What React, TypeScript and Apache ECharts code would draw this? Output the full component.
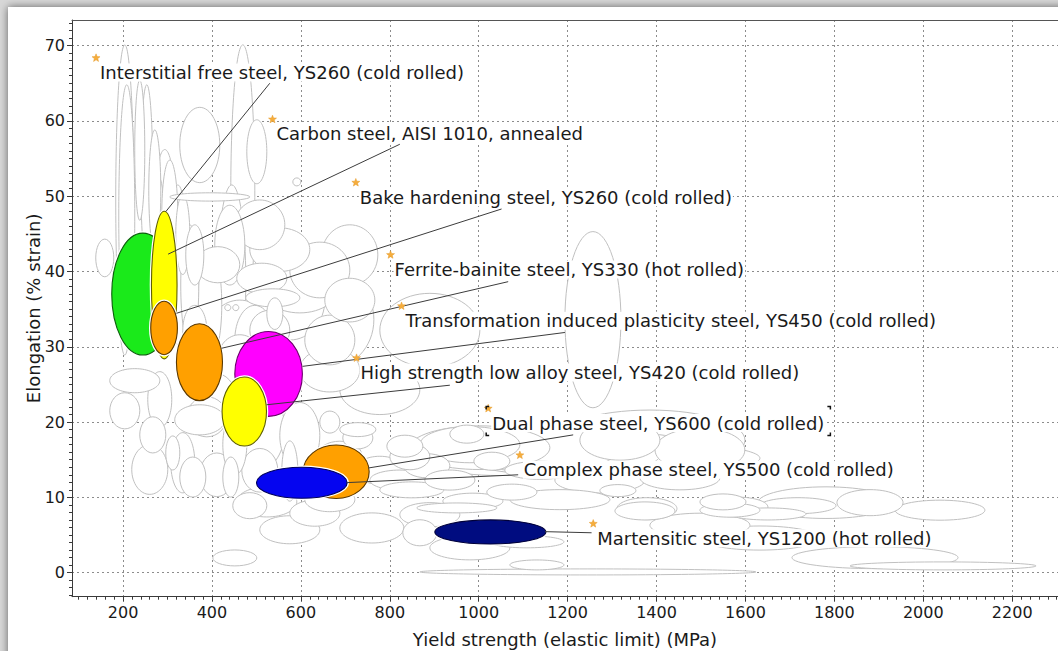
import React, { useEffect, useRef } from "react";
import * as echarts from "echarts";

const FONT = "'DejaVu Sans', Verdana, sans-serif";

// Axis extents (MPa / % strain)
const xRange = [85.2, 2303];
const yRange = [-3.19, 73.4];
const xMajorTicks = [200, 400, 600, 800, 1000, 1200, 1400, 1600, 1800, 2000, 2200];
const yMajorTicks = [0, 10, 20, 30, 40, 50, 60, 70];
const xMinorStep = 20;
const yMinorStep = 1;

// Background (unlabelled) material bubbles: [yield strength, elongation, half-width MPa, half-height %]
const backgroundEllipses: number[][] = [
  [208.4, 47.5, 18, 17.3], [253.4, 52.8, 13.5, 12], [372.6, 56.8, 45, 5], [500.9, 55.9, 22.5, 4.25],
  [395.1, 49.9, 90, 0.55], [590.9, 51.9, 9, 0.53], [203.9, 49.5, 20.3, 20.6], [469.4, 50.8, 27, 19.3],
  [293.9, 42.9, 29.3, 13.3], [323.1, 40.9, 22.5, 10.6], [350.1, 38.2, 20.3, 8], [395.1, 35.6, 27, 7.3],
  [444.6, 38.9, 31.5, 12.6], [278.1, 43.5, 18, 9.3], [158.9, 41.8, 20.3, 2.5], [413.1, 40.9, 49.5, 2.4],
  [512.1, 39.1, 56.3, 2], [536.9, 36.5, 60.8, 1.2], [658.4, 33.6, 105.8, 6.6], [575.1, 36.2, 78.8, 5.3],
  [890.1, 32.2, 112.5, 4.9], [226.4, 25.5, 56.3, 1.6], [203.9, 21.5, 33.8, 2.4], [266.9, 18.3, 29.3, 2.4],
  [311.9, 15.9, 15.8, 2.26], [356.9, 12.7, 29.3, 2.66], [410.9, 13.0, 38.3, 2.9], [442.4, 12.7, 18, 2.66],
  [485.1, 8.9, 38.3, 1.73], [388.4, 20.7, 45, 2.66], [451.4, 1.96, 49.5, 1.06], [597.6, 18.2, 45, 4.4],
  [665.1, 20.0, 22.5, 1.46], [728.1, 19.0, 40.5, 0.93], [728.1, 17.9, 33.8, 1.46], [833.9, 16.8, 40.5, 1.46],
  [845.1, 15.4, 45, 1.73], [883.4, 14.2, 51.8, 1.6], [973.4, 18.4, 38.3, 1.2], [1029.6, 14.8, 40.5, 1.2],
  [759.6, 5.94, 72, 2], [523.4, 9.4, 67.5, 2], [631.4, 7.9, 56.3, 1.73], [849.6, 11.0, 72, 1.06],
  [950.9, 8.6, 90, 0.66], [986.9, 9.5, 67.5, 1.06], [1074.6, 10.7, 56.3, 1.06], [1378.4, 8.5, 67.5, 1.46],
  [1549.4, 9.4, 51.8, 1.06], [1565.1, 8.3, 67.5, 0.93], [1650.6, 7.8, 85.5, 0.8], [1718.1, 8.9, 85.5, 1.06],
  [1313.1, 10.9, 40.5, 0.8], [1880.1, 9.3, 74.3, 1.73], [1245.6, 0.1, 378, 0.4], [2044.4, 0.9, 209.3, 0.53],
  [1891.4, 2.0, 186.8, 1.46], [1781.1, 9.3, 153, 2.1], [1583.1, 8.7, 67.5, 1.33], [1373.9, 8.2, 67.5, 1.2],
  [1256.9, 33.6, 63, 11.7], [1137.6, 16.6, 180, 3.3], [1182.6, 15.6, 225, 2.66], [1238.9, 16.0, 281.3, 2.9],
  [1295.1, 15.2, 337.5, 2.4], [1385.1, 17.6, 213.8, 4], [867.6, 5.3, 38.3, 1.73], [1108.4, 4.1, 83.3, 0.8],
  [1130.9, 1.03, 60.8, 0.66], [980.1, 3.3, 90, 1.6], [1272.6, 12.3, 101.3, 1.73], [1452.6, 12.6, 90, 1.6],
  [1497.6, 6.3, 112.5, 1.6], [1632.6, 4.6, 135, 1.6], [642.6, 40.2, 67.5, 3.7], [710.1, 36.2, 56.3, 2.9],
  [462.6, 32.2, 67.5, 4], [361.4, 32.2, 27, 3.3], [435.6, 35.2, 6.8, 0.4], [453.6, 35.2, 6.8, 0.4],
  [541.4, 34.4, 18, 2.1], [496.4, 30.9, 45, 4.6], [507.6, 19.0, 56.3, 5.3], [665.1, 26.9, 67.5, 2.9],
  [777.6, 24.3, 90, 3.3], [575.1, 13.5, 18, 4], [334.4, 14.6, 27, 4],
  [237.6, 56.1, 11.3, 9.3], [271.4, 50.8, 13.5, 8], [305.1, 47.5, 18, 7.3], [334.4, 44.9, 15.8, 5.3],
  [361.4, 42.2, 20.3, 4], [552.6, 42.9, 67.5, 2.9], [597.6, 38.2, 90, 3.7], [462.6, 28.3, 49.5, 3.3],
  [406.4, 23.6, 45, 2.9], [282.6, 23.0, 27, 3.7], [980.1, 17.0, 112.5, 2.4], [1002.6, 16.6, 157.5, 2.9],
  [1047.6, 16.1, 202.5, 3.2], [1317.6, 17.6, 90, 2.66], [1497.6, 16.3, 101, 2.9], [1182.6, 9.7, 112.5, 1.33],
  [890.1, 7.7, 67.5, 1.6], [687.6, 15.6, 49.5, 1.86], [777.6, 13.6, 56.3, 1.86], [575.1, 5.7, 67.5, 1.86],
  [2037.6, 8.3, 101, 1.33], [710.1, 42.2, 63, 4],
  [507.6, 46.2, 56.3, 3.3], [440.1, 43.5, 33.8, 5.3], [530.1, 32.2, 45, 2.66], [665.1, 30.9, 56.3, 3.3],
  [372.6, 20.3, 56.3, 2], [260.1, 13.7, 40.5, 3.3], [451.4, 17.0, 27, 4], [507.6, 13.6, 40.5, 2.9],
  [665.1, 9.7, 56.3, 1.6], [822.6, 12.3, 67.5, 1.33], [935.1, 12.3, 56.3, 1.33], [1137.6, 13.6, 78.8, 1.2],
];

// Highlighted materials (drawn in this order)
const highlightCenters = [
  [244.4, 37.0], [292.7, 38.2], [292.3, 32.5], [371.9, 27.95], [527.4, 26.4],
  [472.7, 21.4], [679.3, 13.4], [602.1, 11.95], [1026.2, 5.41],
];
const highlightRadii = [
  [69.8, 8.1], [28.8, 9.8], [30, 3.55], [51.8, 5.1], [76, 5.64],
  [50, 4.58], [74.3, 3.55], [102, 2.06], [124.9, 1.6],
];
const highlightFills = ["#1aea1a", "#ffff00", "#ffa000", "#ffa000", "#ff00ff", "#ffff00", "#ffa000", "#0505f0", "#000c80"];
const highlightStrokes = ["#0d5e0d", "#5f5f00", "#5a3800", "#5a3800", "#6a006a", "#5f5f00", "#5a3800", "#00005a", "#00003a"];

// Labels
const labelNames = [
  "Interstitial free steel, YS260 (cold rolled)",
  "Carbon steel, AISI 1010, annealed",
  "Bake hardening steel, YS260 (cold rolled)",
  "Ferrite-bainite steel, YS330 (hot rolled)",
  "Transformation induced plasticity steel, YS450 (cold rolled)",
  "High strength low alloy steel, YS420 (cold rolled)",
  "Dual phase steel, YS600 (cold rolled)",
  "Complex phase steel, YS500 (cold rolled)",
  "Martensitic steel, YS1200 (hot rolled)",
];
const labelAnchors = [
  [139.3, 68.35], [536.2, 60.2], [723.6, 51.8], [801.7, 42.2], [826.4, 35.4],
  [725.2, 28.5], [1021.3, 21.8], [1092.6, 15.6], [1257.6, 6.5],
];
const labelSelected = [false, false, false, false, false, false, true, false, false];
const leaderStarts = [
  [530.1, 65.0], [822.6, 56.9], [1051.4, 48.3], [1066.3, 38.65], [1193.9, 31.9],
  [935.1, 24.9], [1212.5, 18.3], [1088.8, 13.0], [1253.9, 5.3],
];
const leaderEnds = [
  [296.1, 47.95], [301.3, 42.3], [320.2, 34.45], [421.4, 29.8], [603.7, 27.4],
  [522.7, 22.3], [751.3, 13.9], [702.7, 11.96], [1148.9, 5.45],
];

function minorValues(range: number[], step: number) {
  const out: number[] = [];
  for (let v = Math.ceil(range[0] / step) * step; v <= range[1]; v += step) out.push(Math.round(v * 1000) / 1000);
  return out;
}

function starPoints(cx: number, cy: number, ro: number, ri: number) {
  const pts: number[][] = [];
  for (let k = 0; k < 10; k++) {
    const r = k % 2 === 0 ? ro : ri;
    const a = -Math.PI / 2 + (k * Math.PI) / 5;
    pts.push([cx + r * Math.cos(a), cy + r * Math.sin(a)]);
  }
  return pts;
}

let measureCtx: CanvasRenderingContext2D | null = null;
function textWidth(t: string, font: string) {
  if (!measureCtx) measureCtx = document.createElement("canvas").getContext("2d");
  if (!measureCtx) return t.length * 9;
  measureCtx.font = font;
  return measureCtx.measureText(t).width;
}

export default function App() {
  const ref = useRef<HTMLDivElement>(null);

  useEffect(() => {
    if (!ref.current) return;
    const chart = echarts.init(ref.current, undefined, { renderer: "svg" });
    const axisColor = "#3a3a3a";
    const textColor = "#1a1a1a";

    const bgSorted = backgroundEllipses.slice().sort((a, b) => b[2] * b[3] - a[2] * a[3]);

    const option: any = {
      animation: false,
      backgroundColor: "#d8d8d8",
      graphic: [
        {
          type: "rect",
          z: -100,
          shape: { x: 8, y: 7, width: 1200, height: 800 },
          style: { fill: "#ffffff", shadowBlur: 9, shadowColor: "rgba(0,0,0,0.55)" },
          silent: true,
        },
      ],
      grid: { left: 72, top: 20, right: 0, bottom: 54.3, containLabel: false, outerBoundsMode: "none" },
      xAxis: [
        {
          type: "value",
          min: xRange[0],
          max: xRange[1],
          position: "bottom",
          axisLine: { show: true, onZero: false, lineStyle: { color: axisColor, width: 1 } },
          axisTick: { show: true, inside: false, length: 5, customValues: xMajorTicks, lineStyle: { color: axisColor } },
          axisLabel: {
            customValues: xMajorTicks,
            fontSize: 16,
            color: textColor,
            fontFamily: FONT,
            margin: 8,
            formatter: (v: number) => String(v),
          },
          splitLine: { show: true, lineStyle: { color: "#8c8c8c", type: [2, 3], width: 1 } },
          name: "Yield strength (elastic limit) (MPa)",
          nameLocation: "middle",
          nameGap: 34,
          nameMoveOverlap: false,
          nameTextStyle: { fontSize: 18, color: textColor, fontFamily: FONT },
        },
        {
          type: "value",
          min: xRange[0],
          max: xRange[1],
          position: "bottom",
          axisLine: { show: false, onZero: false },
          axisTick: { show: true, inside: false, length: 3, customValues: minorValues(xRange, xMinorStep), lineStyle: { color: axisColor } },
          axisLabel: { show: false },
          splitLine: { show: false },
        },
        {
          type: "value",
          min: xRange[0],
          max: xRange[1],
          position: "top",
          axisLine: { show: true, onZero: false, lineStyle: { color: "#555555", width: 1 } },
          axisTick: { show: false },
          axisLabel: { show: false },
          splitLine: { show: false },
        },
      ],
      yAxis: [
        {
          type: "value",
          min: yRange[0],
          max: yRange[1],
          position: "left",
          axisLine: { show: true, onZero: false, lineStyle: { color: axisColor, width: 1 } },
          axisTick: { show: true, inside: false, length: 5, customValues: yMajorTicks, lineStyle: { color: axisColor } },
          axisLabel: {
            customValues: yMajorTicks,
            fontSize: 16,
            color: textColor,
            fontFamily: FONT,
            margin: 7,
            formatter: (v: number) => String(v),
          },
          splitLine: { show: true, lineStyle: { color: "#8c8c8c", type: [2, 3], width: 1 } },
          name: "Elongation (% strain)",
          nameLocation: "middle",
          nameGap: 30,
          nameMoveOverlap: false,
          nameTextStyle: { fontSize: 18, color: textColor, fontFamily: FONT },
        },
        {
          type: "value",
          min: yRange[0],
          max: yRange[1],
          position: "left",
          axisLine: { show: false, onZero: false },
          axisTick: { show: true, inside: false, length: 3, customValues: minorValues(yRange, yMinorStep), lineStyle: { color: axisColor } },
          axisLabel: { show: false },
          splitLine: { show: false },
        },
      ],
      series: [
        {
          type: "custom",
          name: "background",
          xAxisIndex: 0,
          yAxisIndex: 0,
          z: 2,
          clip: true,
          silent: true,
          encode: { x: 0, y: 1 },
          data: bgSorted,
          renderItem: (params: any, api: any) => {
            const c = api.coord([api.value(0), api.value(1)]);
            const s = api.size([api.value(2), api.value(3)]);
            return {
              type: "ellipse",
              shape: { cx: c[0], cy: c[1], rx: s[0], ry: s[1] },
              style: { fill: "#ffffff", stroke: "#c0c0c0", lineWidth: 1 },
            };
          },
        },
        {
          type: "custom",
          name: "highlight",
          xAxisIndex: 0,
          yAxisIndex: 0,
          z: 3,
          clip: true,
          silent: true,
          encode: { x: 0, y: 1 },
          data: highlightCenters.map((c, i) => [c[0], c[1], highlightRadii[i][0], highlightRadii[i][1]]),
          renderItem: (params: any, api: any) => {
            const i = params.dataIndex;
            const c = api.coord([api.value(0), api.value(1)]);
            const s = api.size([api.value(2), api.value(3)]);
            const shape = { cx: c[0], cy: c[1], rx: s[0], ry: s[1] };
            return {
              type: "group",
              children: [
                { type: "ellipse", shape, style: { fill: "#ffffff", stroke: "#ffffff", lineWidth: 3.5 } },
                { type: "ellipse", shape, style: { fill: highlightFills[i], stroke: highlightStrokes[i], lineWidth: 1.1 } },
              ],
            };
          },
        },
        {
          type: "custom",
          name: "leaders",
          xAxisIndex: 0,
          yAxisIndex: 0,
          z: 4,
          clip: true,
          silent: true,
          encode: { x: [0, 2], y: [1, 3] },
          data: leaderStarts.map((s, i) => [s[0], s[1], leaderEnds[i][0], leaderEnds[i][1]]),
          renderItem: (params: any, api: any) => {
            const a = api.coord([api.value(0), api.value(1)]);
            const b = api.coord([api.value(2), api.value(3)]);
            return {
              type: "line",
              shape: { x1: a[0], y1: a[1], x2: b[0], y2: b[1] },
              style: { stroke: "#3c3c3c", lineWidth: 1 },
            };
          },
        },
        {
          type: "custom",
          name: "labels",
          xAxisIndex: 0,
          yAxisIndex: 0,
          z: 5,
          clip: false,
          silent: true,
          encode: { x: 0, y: 1 },
          data: labelAnchors,
          renderItem: (params: any, api: any) => {
            const i = params.dataIndex;
            const p = api.coord([api.value(0), api.value(1)]);
            const font = `18px ${FONT}`;
            const tx = p[0] + 3;
            const ty = p[1] + 14.5;
            const children: any[] = [
              {
                type: "text",
                x: tx,
                y: ty,
                style: {
                  text: labelNames[i],
                  fontSize: 18,
                  fontFamily: FONT,
                  fill: textColor,
                  align: "left",
                  verticalAlign: "middle",
                  backgroundColor: "#ffffff",
                  padding: [0, 1, 0, 1],
                },
              },
              {
                type: "polygon",
                shape: { points: starPoints(p[0], p[1], 4.2, 1.8) },
                style: { fill: "#f6ad3c", stroke: "#e59a2a", lineWidth: 0.5 },
              },
            ];
            if (labelSelected[i]) {
              const w = textWidth(labelNames[i], font);
              const L = tx - 5;
              const R = tx + w + 7;
              const T = p[1] - 2;
              const B = p[1] + 27;
              const st = { stroke: "#111111", lineWidth: 1.5, fill: null };
              children.push(
                { type: "polyline", shape: { points: [[L, T + 3], [L, T], [L + 3, T]] }, style: st },
                { type: "polyline", shape: { points: [[L, B - 3], [L, B], [L + 3, B]] }, style: st },
                { type: "polyline", shape: { points: [[R - 3, T], [R, T], [R, T + 3]] }, style: st },
                { type: "polyline", shape: { points: [[R - 3, B], [R, B], [R, B - 3]] }, style: st }
              );
            }
            return { type: "group", children };
          },
        },
      ],
    };

    chart.setOption(option);
    return () => chart.dispose();
  }, []);

  return (
    <div
      ref={ref}
      style={{ position: "absolute", left: 0, top: 0, width: 1058, height: 651 }}
    />
  );
}
